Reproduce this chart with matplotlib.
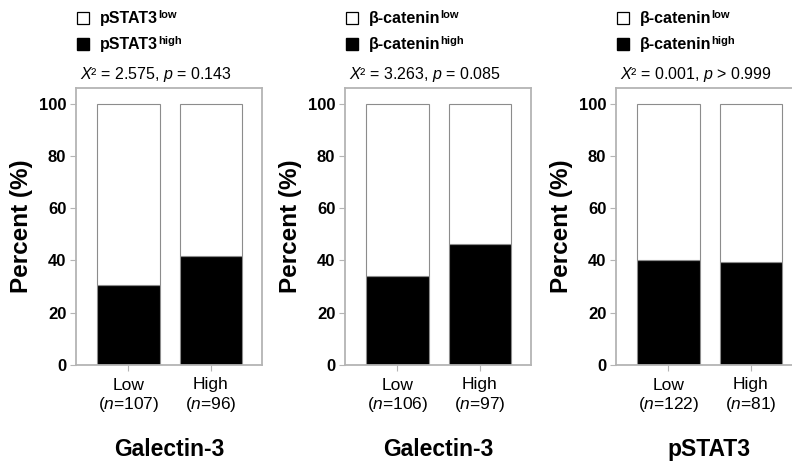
import matplotlib
matplotlib.use("Agg")
import matplotlib.pyplot as plt

plt.rcParams['font.family'] = ['Liberation Sans', 'DejaVu Sans']
plt.rcParams['mathtext.fontset'] = 'custom'
plt.rcParams['mathtext.rm'] = 'Liberation Sans'
plt.rcParams['mathtext.it'] = 'Liberation Sans:italic'
plt.rcParams['mathtext.bf'] = 'Liberation Sans:bold'

# data
groups = ['Low', 'High']
n_gal_stat3 = [107, 96]
n_gal_bcat = [106, 97]
n_stat3_bcat = [122, 81]
high_gal_stat3 = [30.8, 41.7]
high_gal_bcat = [34.0, 46.4]
high_stat3_bcat = [40.2, 39.5]
markers = ['pSTAT3', '\u03b2-catenin', '\u03b2-catenin']
predictors = ['Galectin-3', 'Galectin-3', 'pSTAT3']
stats = [r'$\mathit{X}$² = 2.575, $\mathit{p}$ = 0.143',
         r'$\mathit{X}$² = 3.263, $\mathit{p}$ = 0.085',
         r'$\mathit{X}$² = 0.001, $\mathit{p}$ > 0.999']
yticks = [0, 20, 40, 60, 80, 100]

panels = [
    (n_gal_stat3, high_gal_stat3),
    (n_gal_bcat, high_gal_bcat),
    (n_stat3_bcat, high_stat3_bcat),
]

W, H = 792, 466
fig = plt.figure(figsize=(W / 100, H / 100), dpi=100)
frame = '#b4b4b4'
lefts = [76, 345, 616]
ax_w, ax_top, ax_bot = 186, 88, 365

for i, (ns, highs) in enumerate(panels):
    ax = fig.add_axes([lefts[i] / W, 1 - ax_bot / H, ax_w / W, (ax_bot - ax_top) / H])
    x = range(len(groups))
    lows = [100 - h for h in highs]
    ax.bar(x, highs, width=0.76, color='black', edgecolor='#8c8c8c', linewidth=0.8)
    ax.bar(x, lows, bottom=highs, width=0.76, color='white', edgecolor='#8c8c8c', linewidth=0.8)
    ax.set_xlim(-0.635, 1.62)
    ax.set_ylim(0, 106)
    ax.set_yticks(yticks)
    ax.set_yticklabels([str(t) for t in yticks], fontsize=12, fontweight='bold')
    ax.set_xticks(list(x))
    ax.set_xticklabels([f'{g}\n($\\mathit{{n}}$={n})' for g, n in zip(groups, ns)], fontsize=12.5)
    ax.tick_params(axis='y', length=4, color=frame, pad=3)
    ax.tick_params(axis='x', length=4, color=frame, pad=5)
    for sp in ax.spines.values():
        sp.set_color(frame)
        sp.set_linewidth(1.3)
    ax.set_ylabel('Percent (%)', fontsize=17.5, fontweight='bold', labelpad=4)

    # legend
    ax.plot([0.038], [1.252], marker='s', ms=8.5, mfc='white', mec='black', mew=0.9,
            transform=ax.transAxes, clip_on=False)
    ax.plot([0.038], [1.158], marker='s', ms=8.5, mfc='black', mec='black',
            transform=ax.transAxes, clip_on=False)
    for yy, sup in [(1.252, 'low'), (1.158, 'high')]:
        t = ax.text(0.128, yy, markers[i], transform=ax.transAxes, fontsize=11.5,
                    fontweight='bold', ha='left', va='center')
        ax.annotate(sup, xy=(1.0, 0.38), xycoords=t, fontsize=8, fontweight='bold',
                    ha='left', va='bottom')

    ax.text(0.43, 1.049, stats[i], transform=ax.transAxes, fontsize=11.5,
            ha='center', va='center')
    ax.text(0.5, -0.305, predictors[i], transform=ax.transAxes, fontsize=16.5,
            fontweight='bold', ha='center', va='center')

fig.savefig('out.png', dpi=100)
